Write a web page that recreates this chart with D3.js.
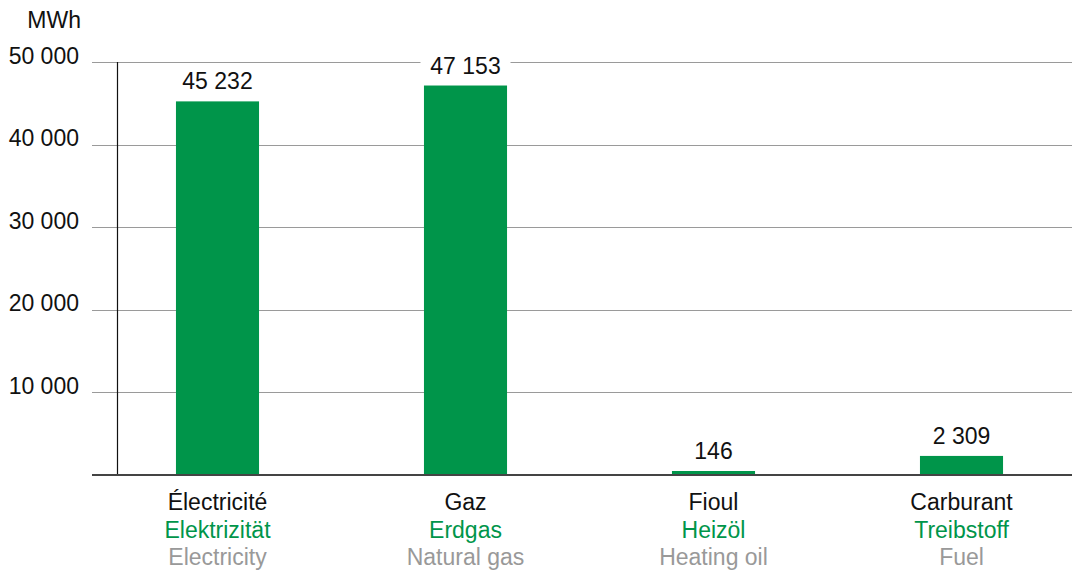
<!DOCTYPE html>
<html>
<head>
<meta charset="utf-8">
<script src="https://cdn.jsdelivr.net/npm/d3@7"></script>
<style>
  html, body { margin: 0; padding: 0; background: #fff; }
  svg { display: block; font-family: "Liberation Sans", Arial, Helvetica, sans-serif; }
</style>
</head>
<body>
<svg id="chart" width="1072" height="571"></svg>
<script>
// Energy consumption by source (MWh)
const categoriesFr = ["Électricité", "Gaz", "Fioul", "Carburant"];
const categoriesDe = ["Elektrizität", "Erdgas", "Heizöl", "Treibstoff"];
const categoriesEn = ["Electricity", "Natural gas", "Heating oil", "Fuel"];
const values = [45232, 47153, 146, 2309];
const yTicks = [10000, 20000, 30000, 40000, 50000];
const unitLabel = "MWh";

const svg = d3.select("#chart");
const green = "#00954a";
const fs = 23;
const fmt = v => d3.format(",")(v).replace(/,/g, " ");

const x = d3.scaleBand()
  .domain(categoriesFr)
  .range([93.5, 1085.5])
  .paddingInner(0.665)
  .paddingOuter(0.3325);

const y = d3.scaleLinear()
  .domain([0, 50000])
  .range([475, 62]);

// very small values still get a visible sliver
const minBar = 4;
const barTop = d => Math.min(y(d), y(0) - minBar);

// horizontal gridlines
svg.append("g")
  .selectAll("line")
  .data(yTicks)
  .join("line")
  .attr("x1", 92)
  .attr("x2", 1072)
  .attr("y1", d => Math.round(y(d)) + 0.5)
  .attr("y2", d => Math.round(y(d)) + 0.5)
  .attr("stroke", "#9a9a9a")
  .attr("stroke-width", 1);

// tick labels
svg.append("g")
  .selectAll("text")
  .data(yTicks)
  .join("text")
  .attr("x", 79)
  .attr("y", d => y(d) + 1.5)
  .attr("text-anchor", "end")
  .attr("font-size", fs)
  .attr("fill", "#111")
  .text(fmt);

// unit
svg.append("text")
  .attr("x", 81)
  .attr("y", 28)
  .attr("text-anchor", "end")
  .attr("font-size", fs)
  .attr("fill", "#111")
  .text(unitLabel);

// vertical axis
svg.append("line")
  .attr("x1", 117.5).attr("x2", 117.5)
  .attr("y1", y(50000)).attr("y2", y(0))
  .attr("stroke", "#111")
  .attr("stroke-width", 1.2);

// bars
svg.append("g")
  .selectAll("rect")
  .data(values)
  .join("rect")
  .attr("x", (d, i) => x(categoriesFr[i]))
  .attr("width", x.bandwidth())
  .attr("y", d => barTop(d))
  .attr("height", d => y(0) - barTop(d))
  .attr("fill", green);

// value labels with white backing so gridlines break around them
const vl = svg.append("g")
  .selectAll("g")
  .data(values)
  .join("g")
  .attr("transform", (d, i) => `translate(${x(categoriesFr[i]) + x.bandwidth() / 2},${barTop(d) - 12})`);

vl.append("rect")
  .attr("x", -45)
  .attr("width", 90)
  .attr("y", -19)
  .attr("height", 24)
  .attr("fill", "#fff");

vl.append("text")
  .attr("text-anchor", "middle")
  .attr("font-size", fs)
  .attr("fill", "#111")
  .text(fmt);

// baseline
svg.append("line")
  .attr("x1", 92).attr("x2", 1072)
  .attr("y1", y(0)).attr("y2", y(0))
  .attr("stroke", "#444")
  .attr("stroke-width", 2);

// category labels, three languages
const langRows = [
  { names: categoriesFr, color: "#111", dy: 510 },
  { names: categoriesDe, color: green, dy: 538 },
  { names: categoriesEn, color: "#999", dy: 565 }
];
langRows.forEach(row => {
  svg.append("g")
    .selectAll("text")
    .data(row.names)
    .join("text")
    .attr("x", (d, i) => x(categoriesFr[i]) + x.bandwidth() / 2)
    .attr("y", row.dy)
    .attr("text-anchor", "middle")
    .attr("font-size", fs)
    .attr("fill", row.color)
    .text(d => d);
});
</script>
</body>
</html>
